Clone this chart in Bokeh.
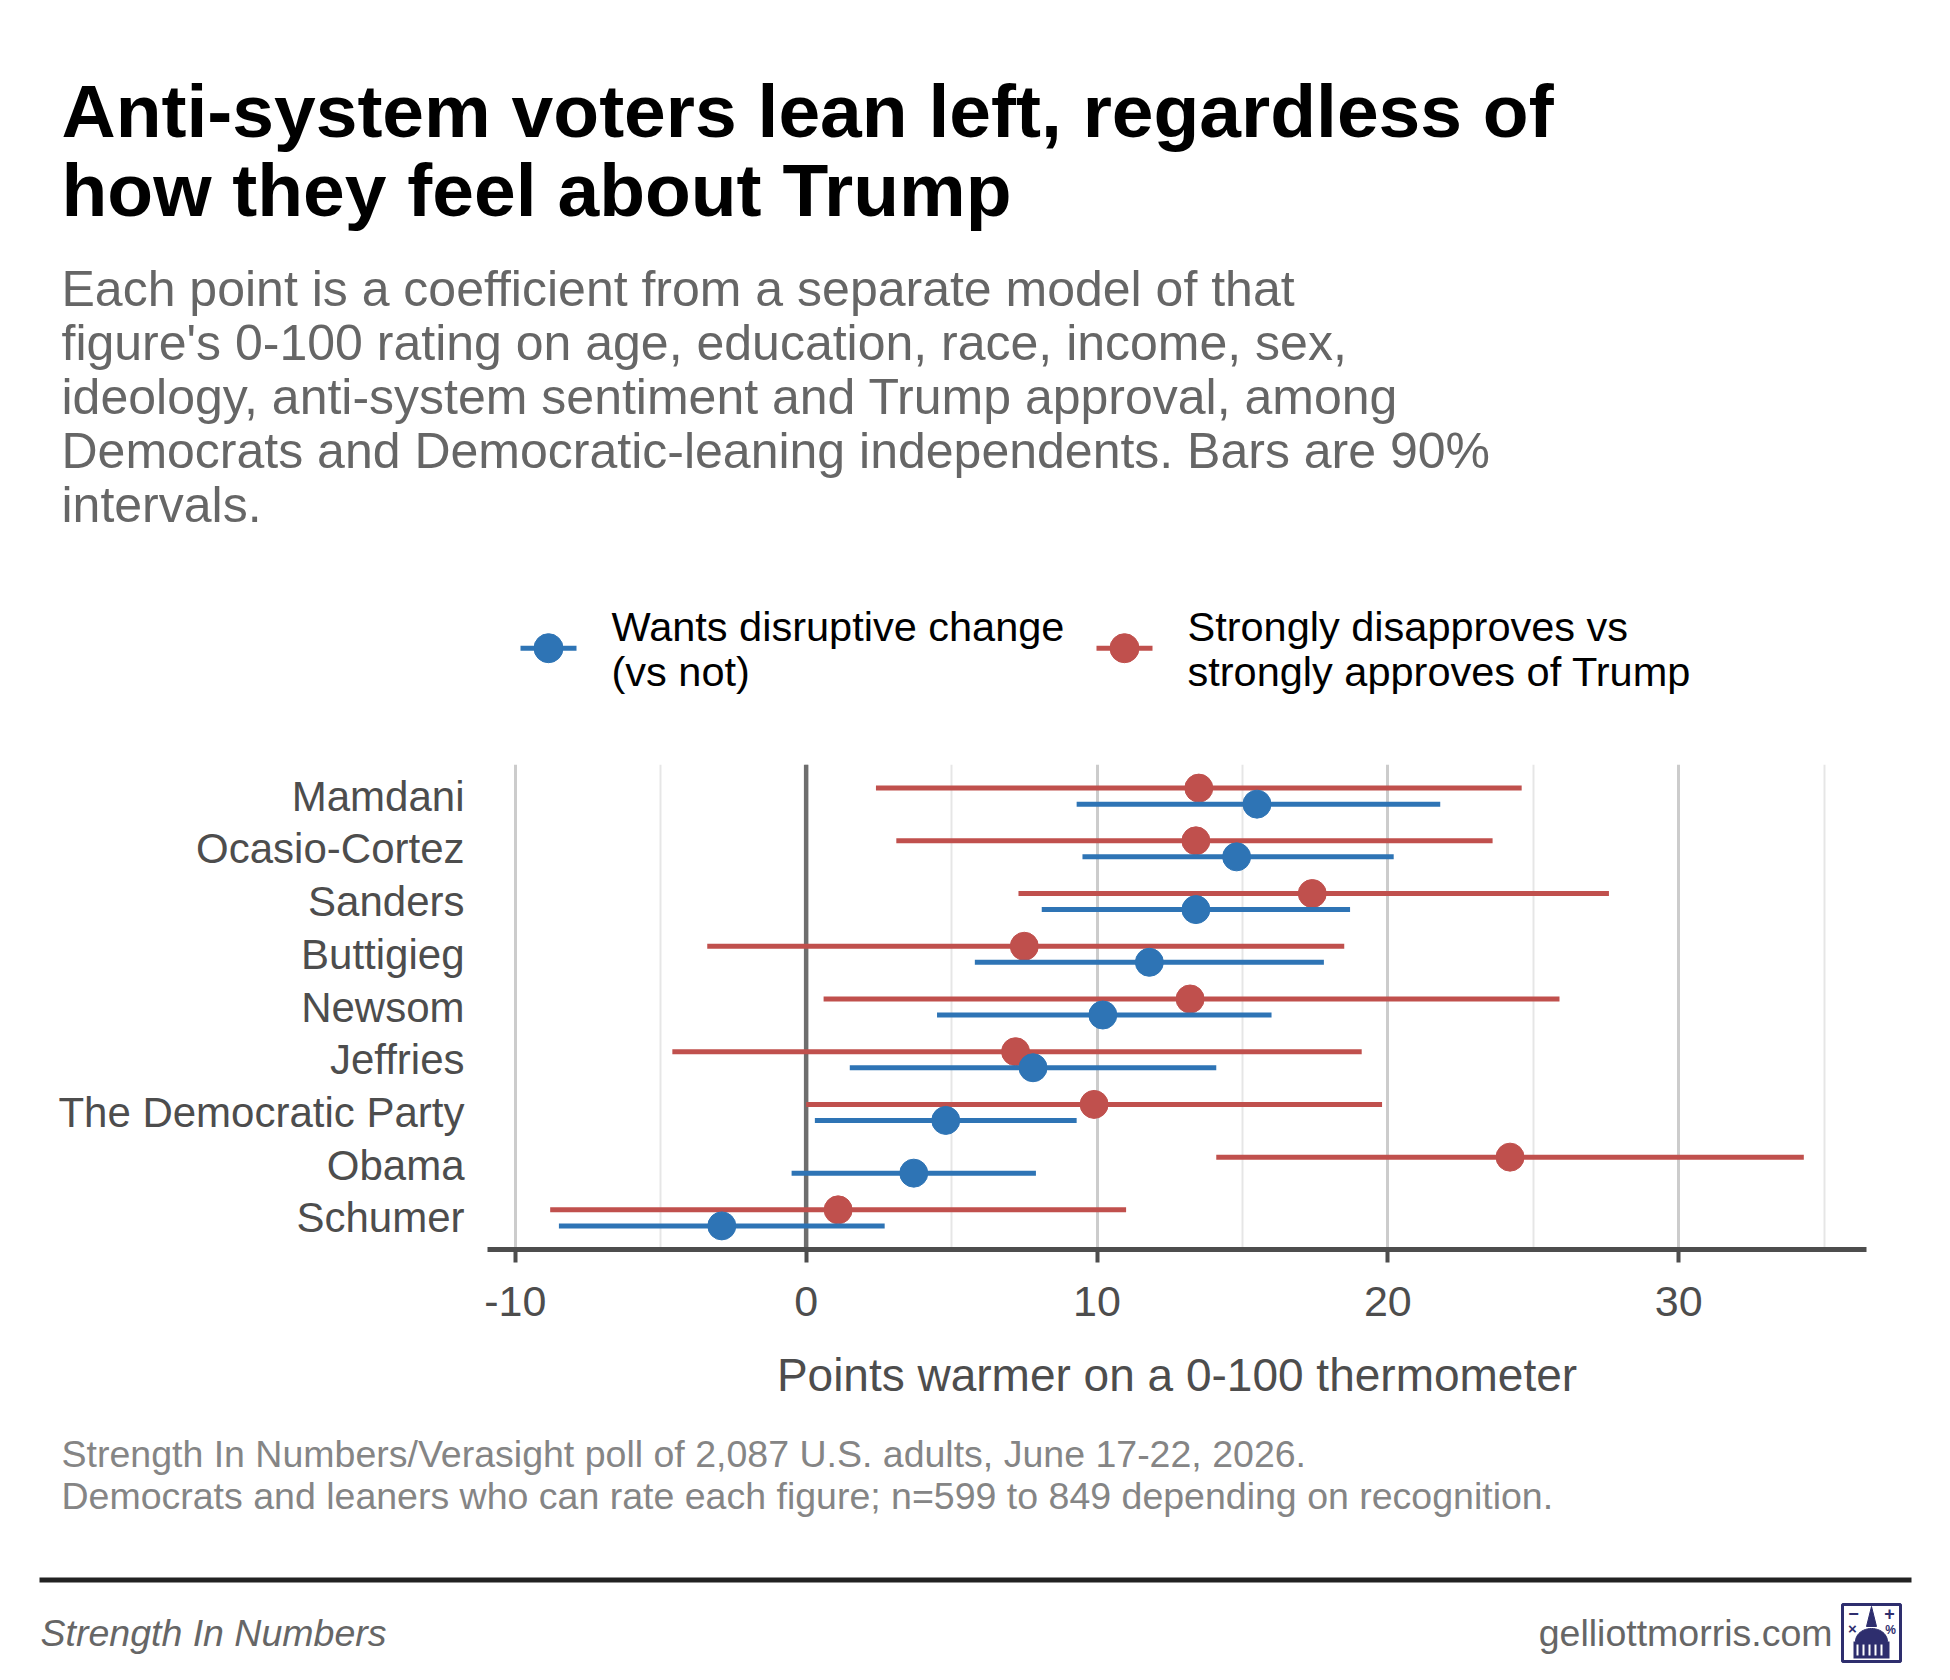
import math
from bokeh.plotting import figure
from bokeh.layouts import column
from bokeh.models import ColumnDataSource, Range1d, FixedTicker, Span, Label
from bokeh.embed import file_html
from bokeh.resources import INLINE

# figures, top to bottom
names = ["Mamdani", "Ocasio-Cortez", "Sanders", "Buttigieg", "Newsom",
         "Jeffries", "The Democratic Party", "Obama", "Schumer"]

# Wants disruptive change (vs not)
disrupt_est = [15.5, 14.8, 13.4, 11.8, 10.2, 7.8, 4.8, 3.7, -2.9]
disrupt_lo = [9.3, 9.5, 8.1, 5.8, 4.5, 1.5, 0.3, -0.5, -8.5]
disrupt_hi = [21.8, 20.2, 18.7, 17.8, 16.0, 14.1, 9.3, 7.9, 2.7]

# Strongly disapproves vs strongly approves of Trump
trump_est = [13.5, 13.4, 17.4, 7.5, 13.2, 7.2, 9.9, 24.2, 1.1]
trump_lo = [2.4, 3.1, 7.3, -3.4, 0.6, -4.6, 0.0, 14.1, -8.8]
trump_hi = [24.6, 23.6, 27.6, 18.5, 25.9, 19.1, 19.8, 34.3, 11.0]

major_ticks = [-10, 0, 10, 20, 30]
minor_ticks = [-5, 5, 15, 25, 35]

title_lines = ["Anti-system voters lean left, regardless of",
               "how they feel about Trump"]
subtitle_lines = ["Each point is a coefficient from a separate model of that",
                  "figure's 0-100 rating on age, education, race, income, sex,",
                  "ideology, anti-system sentiment and Trump approval, among",
                  "Democrats and Democratic-leaning independents. Bars are 90%",
                  "intervals."]
caption_lines = ["Strength In Numbers/Verasight poll of 2,087 U.S. adults, June 17-22, 2026.",
                 "Democrats and leaners who can rate each figure; n=599 to 849 depending on recognition."]
legend_blue = ["Wants disruptive change", "(vs not)"]
legend_red = ["Strongly disapproves vs", "strongly approves of Trump"]

BLUE = "#2E74B5"
RED = "#C0504D"
NAVY = "#2E2E6E"
FONT = "Liberation Sans"
W = 1934


def canvas(h):
    # a blank figure whose data coordinates are pixels, y pointing down
    f = figure(width=W, height=h, output_backend="svg", toolbar_location=None,
               x_range=Range1d(0, W), y_range=Range1d(h, 0),
               x_axis_location=None, y_axis_location=None,
               min_border=0, min_border_left=0, min_border_right=0,
               min_border_top=0, min_border_bottom=0, frame_align=False)
    f.outline_line_color = None
    f.xgrid.visible = False
    f.ygrid.visible = False
    return f


def text(f, x, base, s, size, color, style="normal", align="left"):
    # base is the wanted baseline; the label anchor sits about 0.37 em above it
    f.add_layout(Label(x=x, y=base - 0.37 * size, text=s, text_font=FONT,
                       text_font_size=f"{size}px", text_color=color,
                       text_font_style=style, text_align=align,
                       text_baseline="alphabetic"))


# ---------------- header: title, subtitle, legend
top = canvas(708)
for i, line in enumerate(title_lines):
    text(top, 61, 138.5 + i * 78.3, line, 75, "black", "bold")
for i, line in enumerate(subtitle_lines):
    text(top, 61, 307 + i * 54, line, 50, "#666666")

for x0, color, lines in [(520, BLUE, legend_blue), (1096, RED, legend_red)]:
    top.segment(x0=[x0], y0=[647.7], x1=[x0 + 56], y1=[647.7], line_color=color, line_width=5)
    top.scatter(x=[x0 + 28], y=[647.7], size=29, fill_color=color, line_color=color)
    for i, line in enumerate(lines):
        text(top, x0 + 91, 641 + i * 45, line, 41.5, "black")

# ---------------- chart
n = len(names)
ypos = list(range(n, 0, -1))
dodge = 0.152

src_blue = ColumnDataSource(dict(y=[v - dodge for v in ypos], est=disrupt_est,
                                 lo=disrupt_lo, hi=disrupt_hi))
src_red = ColumnDataSource(dict(y=[v + dodge for v in ypos], est=trump_est,
                                lo=trump_lo, hi=trump_hi))

all_vals = disrupt_lo + disrupt_hi + trump_lo + trump_hi
xmin, xmax = min(all_vals), max(all_vals)
pad = 0.05 * (xmax - xmin)

p = figure(width=W, height=712, output_backend="svg", toolbar_location=None,
           x_range=Range1d(xmin - pad, xmax + pad), y_range=Range1d(0.4, n + 0.6),
           min_border_left=487, min_border_right=68, min_border_top=56,
           min_border_bottom=171, frame_align=False)
p.outline_line_color = None

ticker = FixedTicker(ticks=major_ticks, minor_ticks=minor_ticks)
p.xaxis.ticker = ticker
p.xgrid.grid_line_color = "#cccccc"
p.xgrid.grid_line_width = 3
p.xgrid.minor_grid_line_color = "#e6e6e6"
p.xgrid.minor_grid_line_width = 2
p.ygrid.visible = False

p.add_layout(Span(location=0, dimension="height", line_color="#6e6e6e",
                  line_width=4.5, level="underlay"))

p.segment(x0="lo", y0="y", x1="hi", y1="y", source=src_red, line_color=RED, line_width=5)
p.scatter(x="est", y="y", source=src_red, size=28, fill_color=RED, line_color=RED)
p.segment(x0="lo", y0="y", x1="hi", y1="y", source=src_blue, line_color=BLUE, line_width=5)
p.scatter(x="est", y="y", source=src_blue, size=28, fill_color=BLUE, line_color=BLUE)

p.xaxis.axis_line_color = "#4d4d4d"
p.xaxis.axis_line_width = 5
p.xaxis.major_tick_line_color = "#4d4d4d"
p.xaxis.major_tick_line_width = 4
p.xaxis.major_tick_out = 13
p.xaxis.major_tick_in = 0
p.xaxis.minor_tick_line_color = None
p.xaxis.major_label_overrides = {t: str(t) for t in major_ticks}
p.xaxis.major_label_text_font = FONT
p.xaxis.major_label_text_font_size = "43px"
p.xaxis.major_label_text_color = "#4d4d4d"
p.xaxis.major_label_standoff = 24
p.xaxis.axis_label = "Points warmer on a 0-100 thermometer"
p.xaxis.axis_label_text_font = FONT
p.xaxis.axis_label_text_font_size = "46px"
p.xaxis.axis_label_text_font_style = "normal"
p.xaxis.axis_label_text_color = "#4d4d4d"
p.xaxis.axis_label_standoff = 30

p.yaxis.ticker = FixedTicker(ticks=ypos)
p.yaxis.major_label_overrides = {y: nm for y, nm in zip(ypos, names)}
p.yaxis.axis_line_color = None
p.yaxis.major_tick_line_color = None
p.yaxis.minor_tick_line_color = None
p.yaxis.major_label_text_font = FONT
p.yaxis.major_label_text_font_size = "42px"
p.yaxis.major_label_text_color = "#4d4d4d"
p.yaxis.major_label_standoff = 17

# ---------------- footer: caption, rule, credits, logo
bot = canvas(244)
for i, line in enumerate(caption_lines):
    text(bot, 61, 47.5 + i * 41.8, line, 37.5, "#858585")
bot.segment(x0=[39], y0=[159.5], x1=[1911], y1=[159.5], line_color="#222222", line_width=5)
text(bot, 40, 226, "Strength In Numbers", 37.5, "#666666", "italic")
text(bot, 1832, 226, "gelliottmorris.com", 37.5, "#666666", align="right")

# small capitol logo
bot.quad(left=[1842], right=[1900], top=[184], bottom=[241], fill_alpha=0,
         line_color=NAVY, line_width=3)
arc = [math.pi * k / 24 for k in range(25)]
bot.patch([1871 + 16 * math.cos(t) for t in arc], [221 - 13 * math.sin(t) for t in arc],
          fill_color=NAVY, line_color=NAVY)
bot.patch([1866, 1871, 1876], [206, 186, 206], fill_color=NAVY, line_color=NAVY)
bot.quad(left=[1853], right=[1889], top=[221], bottom=[238], fill_color=NAVY, line_color=None)
bot.segment(x0=[1857, 1863, 1869, 1875, 1881], y0=[224] * 5,
            x1=[1857, 1863, 1869, 1875, 1881], y1=[235] * 5, line_color="white", line_width=2)
text(bot, 1853, 200, "−", 18, NAVY, "bold", "center")
text(bot, 1889, 200, "+", 18, NAVY, "bold", "center")
text(bot, 1852, 214, "×", 15, NAVY, "bold", "center")
text(bot, 1890, 214, "%", 12, NAVY, "bold", "center")

layout = column(top, p, bot)
open("out.html", "w").write(file_html(layout, INLINE))
